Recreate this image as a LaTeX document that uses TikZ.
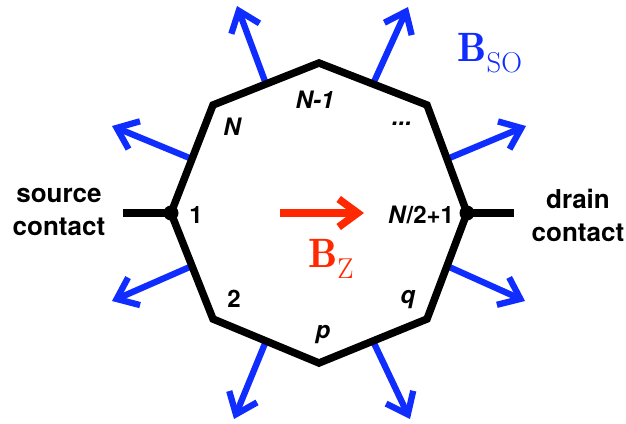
\documentclass[tikz,border=0pt]{standalone}
\usepackage{fontspec}
\setsansfont{TeX Gyre Heros}
\usetikzlibrary{arrows.meta,calc}
\definecolor{bso}{RGB}{15,45,255}
\definecolor{bz}{RGB}{255,40,0}
\begin{document}
\begin{tikzpicture}[x=1pt,y=-1pt,
  oct/.style={line width=7.5pt, line join=miter},
  lead/.style={line width=7.5pt},
  barrow/.style={bso, line width=6.3pt, -{Straight Barb[length=19pt,width=30pt]}},
  rarrow/.style={bz, line width=7.5pt, -{Straight Barb[length=19pt,width=28pt]}},
  lab/.style={font=\sffamily\bfseries\fontsize{24}{26}\selectfont, inner sep=0pt},
  ilab/.style={font=\sffamily\bfseries\itshape\fontsize{24}{26}\selectfont, inner sep=0pt},
  clab/.style={font=\sffamily\bfseries\fontsize{26}{33}\selectfont, align=center, inner sep=0pt},
  dot/.style={circle, fill=black, minimum size=15pt, inner sep=0pt}]
\useasboundingbox (0,0) rectangle (626,423);
% vertices
\coordinate (v0) at (171,213);
\coordinate (v1) at (213,105);
\coordinate (v2) at (319,63);
\coordinate (v3) at (427,105);
\coordinate (v4) at (467,213);
\coordinate (v5) at (427,319);
\coordinate (v6) at (319,363);
\coordinate (v7) at (213,319);
% arrow tips
\coordinate (t01) at (112,126);
\coordinate (t12) at (237,6);
\coordinate (t23) at (408,7);
\coordinate (t34) at (526,126);
\coordinate (t45) at (525,301);
\coordinate (t56) at (410,419);
\coordinate (t67) at (234,419);
\coordinate (t70) at (112,301);
% blue arrows
\draw[barrow] ($(v0)!0.5!(v1)$) -- (t01);
\draw[barrow] ($(v1)!0.5!(v2)$) -- (t12);
\draw[barrow] ($(v2)!0.5!(v3)$) -- (t23);
\draw[barrow] ($(v3)!0.5!(v4)$) -- (t34);
\draw[barrow] ($(v4)!0.5!(v5)$) -- (t45);
\draw[barrow] ($(v5)!0.5!(v6)$) -- (t56);
\draw[barrow] ($(v6)!0.5!(v7)$) -- (t67);
\draw[barrow] ($(v7)!0.5!(v0)$) -- (t70);
% octagon
\draw[oct] (v0) -- (v1) -- (v2) -- (v3) -- (v4) -- (v5) -- (v6) -- (v7) -- cycle;
% contacts
\coordinate (sc) at (123,213);
\coordinate (dc) at (514,213);
\draw[lead] (sc) -- (v0);
\draw[lead] (v4) -- (dc);
\node[dot] (d0) at (v0) {};
\node[dot] (d4) at (v4) {};
\node[clab] (src) at (59,212) {source\\contact};
\node[clab] (drn) at (578,215) {drain\\contact};
% site labels
\node[lab] (l1) at (196,215) {1};
\node[lab] (lmid) at (421,215) {\textit{N}/2+1};
\node[ilab] (lN) at (232,127) {N};
\node[ilab] (lN1) at (315,100) {N-1};
\node[ilab] (ldots) at (402,124) {...};
\node[lab] (l2) at (234,299) {2};
\node[ilab] (lp) at (323,335) {p};
\node[ilab] (lq) at (408,300) {q};
% fields
\coordinate (rz0) at (280,213);
\coordinate (rz1) at (364,213);
\draw[rarrow] (rz0) -- (rz1);
\node[bz, inner sep=0pt, font=\fontsize{41}{41}\selectfont] (bzl) at (331,259) {$\mathbf{B}_{\mathrm{Z}}$};
\node[bso, inner sep=0pt, font=\fontsize{41}{41}\selectfont] (bsol) at (490,53) {$\mathbf{B}_{\mathrm{SO}}$};
\end{tikzpicture}
\end{document}
